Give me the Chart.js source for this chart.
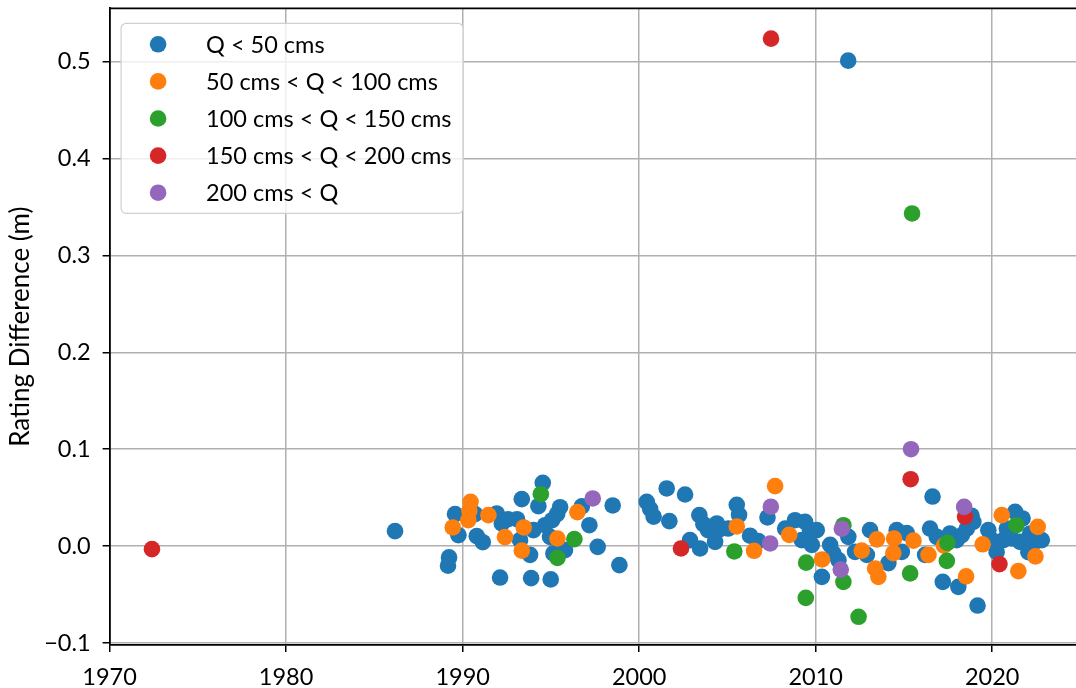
<!DOCTYPE html>
<html><head><meta charset="utf-8">
<script src="https://cdn.jsdelivr.net/npm/chart.js@4.4.1/dist/chart.umd.min.js"></script>
<style>
html,body{margin:0;padding:0;overflow:hidden;background:#fff;width:1076px;height:688px}
#wrap{position:absolute;left:0;top:0;width:1100px;height:688px}
</style>
</head><body><div id="wrap"><canvas id="c" width="1100" height="688"></canvas></div>
<script>
const seriesLabels = ['Q < 50 cms', '50 cms < Q < 100 cms', '100 cms < Q < 150 cms', '150 cms < Q < 200 cms', '200 cms < Q'];
const seriesColors = ['#1f77b4', '#ff7f0e', '#2ca02c', '#d62728', '#9467bd'];
const xTickValues = [1970, 1980, 1990, 2000, 2010, 2020];
const yTickValues = [-0.1, 0.0, 0.1, 0.2, 0.3, 0.4, 0.5];
const yAxisTitle = 'Rating Difference (m)';

const q50Years = [1986.17,1989.23,1989.17,1989.57,1989.76,1990.70,1990.80,1991.14,1991.93,1992.22,1992.57,1993.08,1993.35,1992.12,1993.88,1994.99,1993.82,1993.25,1994.01,1994.54,1994.29,1994.67,1995.07,1995.35,1995.52,1994.95,1995.14,1995.80,1996.75,1997.18,1997.65,1998.88,1998.50,2000.43,2000.62,2000.82,2001.56,2001.71,2002.60,2002.88,2003.41,2003.64,2004.40,2004.49,2004.30,2003.45,2003.90,2005.53,2005.66,2005.04,2006.28,2006.75,2007.27,2008.27,2008.83,2009.40,2009.68,2010.06,2009.21,2009.78,2010.35,2010.82,2011.00,2011.29,2011.85,2012.23,2013.08,2012.90,2014.12,2014.59,2015.16,2014.88,2016.62,2016.48,2016.86,2016.20,2017.20,2018.08,2017.61,2017.99,2018.83,2018.93,2018.56,2018.28,2019.17,2019.78,2019.99,2020.25,2021.30,2021.72,2020.83,2020.63,2021.11,2021.58,2022.15,2022.43,2022.81,2022.05,2011.84];
const q50Values = [0.0155,-0.0116,-0.0201,0.033,0.0113,0.033,0.0103,0.0041,0.0337,0.0234,0.0278,0.0278,0.0485,-0.0324,-0.033,-0.0343,-0.009,0.0062,0.0165,0.0653,0.0412,0.0216,0.0268,0.033,0.0402,0.0096,-0.0075,-0.0041,0.041,0.0216,-0.0007,-0.0196,0.042,0.0457,0.0385,0.0304,0.0595,0.0258,0.0533,0.0062,0.032,0.0227,0.0234,0.0165,0.0044,-0.0024,0.0165,0.0426,0.0323,0.0182,0.0108,0.0052,0.0296,0.0182,0.0268,0.025,0.0165,0.0165,0.0062,0.0013,-0.0317,0.0013,-0.0075,-0.0144,0.0096,-0.0059,0.0165,-0.009,-0.0175,0.0165,0.0134,-0.0059,0.0512,0.0182,0.0096,-0.009,-0.0369,-0.042,0.0131,0.0062,0.0314,0.025,0.0182,0.0113,-0.0613,0.0165,0.0062,-0.0062,0.0354,0.0286,0.0182,0.0062,0.0079,0.0044,0.0131,0.0044,0.0062,-0.0062,0.501];

const q100Years = [1989.44,1990.45,1990.38,1990.32,1991.46,1992.40,1993.46,1993.35,1995.37,1996.50,2005.53,2006.51,2007.70,2008.50,2010.36,2012.61,2013.47,2013.37,2013.55,2014.44,2014.40,2015.54,2016.39,2017.27,2018.52,2019.46,2020.54,2021.48,2022.58,2022.45];
const q100Values = [0.0193,0.0457,0.0366,0.0268,0.032,0.0093,0.0193,-0.0046,0.0079,0.0351,0.0203,-0.0048,0.0619,0.0116,-0.0137,-0.0046,0.0070,-0.023,-0.0317,0.0079,-0.0072,0.0057,-0.009,0.0005,-0.0312,0.0019,0.032,-0.0258,0.0199,-0.0106];

const q150Years = [1994.43,1995.37,1996.33,2005.39,2009.46,2009.44,2011.57,2011.57,2012.43,2015.35,2015.46,2017.46,2017.43,2021.37];
const q150Values = [0.0536,-0.0121,0.0072,-0.0055,-0.017,-0.0534,0.0216,-0.0369,-0.0729,-0.0281,0.3433,0.0034,-0.0152,0.0216];

const q200Years = [1972.40,2002.37,2007.47,2015.38,2018.46,2020.41];
const q200Values = [-0.0031,-0.0024,0.5237,0.0691,0.0305,-0.0185];

const qHighYears = [1997.37,2007.46,2007.42,2011.48,2011.42,2015.40,2018.41];
const qHighValues = [0.0492,0.0407,0.0028,0.018,-0.0242,0.1,0.0405];

const seriesYears = [q50Years, q100Years, q150Years, q200Years, qHighYears];
const seriesValues = [q50Values, q100Values, q150Values, q200Values, qHighValues];

const FONT = 'Lato';
const FS = 23.5;
const TITLE_FS = 26;
const PR = 8.3;

const datasets = seriesLabels.map((lab, i) => ({
  label: lab,
  data: seriesYears[i].map((x, j) => ({x: x, y: seriesValues[i][j]})),
  backgroundColor: seriesColors[i],
  borderWidth: 0,
  pointRadius: PR,
  pointHoverRadius: PR,
  order: seriesLabels.length - i
}));

function fmtY(v) {
  const r = Math.round(v * 10) / 10;
  const s = Math.abs(r).toFixed(1);
  return r < 0 ? '\u2212' + s : s;
}

function noPad(s) { s.paddingTop = 0; s.paddingBottom = 0; s.paddingLeft = 0; s.paddingRight = 0; }

const boxLegend = {
  id: 'boxLegend',
  afterDraw(chart) {
    const ctx = chart.ctx, a = chart.chartArea;
    const bx = a.left + 11.5, by = a.top + 15, bw = 342, bh = 190, r = 5;
    ctx.save();
    ctx.beginPath();
    ctx.moveTo(bx + r, by);
    ctx.arcTo(bx + bw, by, bx + bw, by + bh, r);
    ctx.arcTo(bx + bw, by + bh, bx, by + bh, r);
    ctx.arcTo(bx, by + bh, bx, by, r);
    ctx.arcTo(bx, by, bx + bw, by, r);
    ctx.closePath();
    ctx.fillStyle = 'rgba(255,255,255,0.8)';
    ctx.fill();
    ctx.strokeStyle = '#d0d0d0';
    ctx.lineWidth = 1.2;
    ctx.stroke();
    ctx.font = FS + 'px ' + FONT;
    ctx.textBaseline = 'middle';
    ctx.textAlign = 'left';
    chart.data.datasets.forEach((ds, i) => {
      const cy = by + 21 + i * 37.1;
      ctx.beginPath();
      ctx.arc(bx + 37, cy, PR, 0, Math.PI * 2);
      ctx.fillStyle = ds.backgroundColor;
      ctx.fill();
      ctx.fillStyle = '#000';
      ctx.fillText(ds.label, bx + 85, cy + 1);
    });
    ctx.restore();
  }
};

const topSpine = {
  id: 'topSpine',
  afterDatasetsDraw(chart) {
    const ctx = chart.ctx, a = chart.chartArea;
    ctx.save();
    ctx.strokeStyle = '#000';
    ctx.lineWidth = 1.8;
    ctx.beginPath();
    ctx.moveTo(a.left, a.top);
    ctx.lineTo(a.right, a.top);
    ctx.stroke();
    ctx.restore();
  }
};

new Chart(document.getElementById('c'), {
  type: 'scatter',
  data: { datasets: datasets },
  options: {
    responsive: false,
    animation: false,
    devicePixelRatio: 1,
    layout: { padding: { left: 0, top: 8, right: 16, bottom: 0 } },
    plugins: { legend: { display: false }, tooltip: { enabled: false } },
    scales: {
      x: {
        type: 'linear', min: 1970, max: 2025.2, z: 1,
        afterBuildTicks: s => { s.ticks = xTickValues.map(v => ({ value: v })); },
        afterFit: s => { s.height = 43; noPad(s); },
        ticks: { font: { family: FONT, size: FS }, color: '#000', padding: 11, maxRotation: 0,
                 callback: v => String(v) },
        grid: { color: '#b0b0b0', lineWidth: 1.5, tickColor: '#000', tickLength: 7, tickWidth: 1.5 },
        border: { color: '#000', width: 1.8 }
      },
      y: {
        type: 'linear', min: -0.102, max: 0.555, z: 1,
        afterBuildTicks: s => { s.ticks = yTickValues.map(v => ({ value: v })); },
        afterFit: s => { s.width = 109.6; noPad(s); },
        ticks: { font: { family: FONT, size: FS }, color: '#000', padding: 12, callback: v => fmtY(v) },
        grid: { color: '#b0b0b0', lineWidth: 1.5, tickColor: '#000', tickLength: 7, tickWidth: 1.5 },
        border: { color: '#000', width: 1.8 },
        title: { display: true, text: yAxisTitle, color: '#000', font: { family: FONT, size: TITLE_FS }, padding: { top: 5, bottom: 0 } }
      }
    }
  },
  plugins: [topSpine, boxLegend]
});
</script>
</body></html>
